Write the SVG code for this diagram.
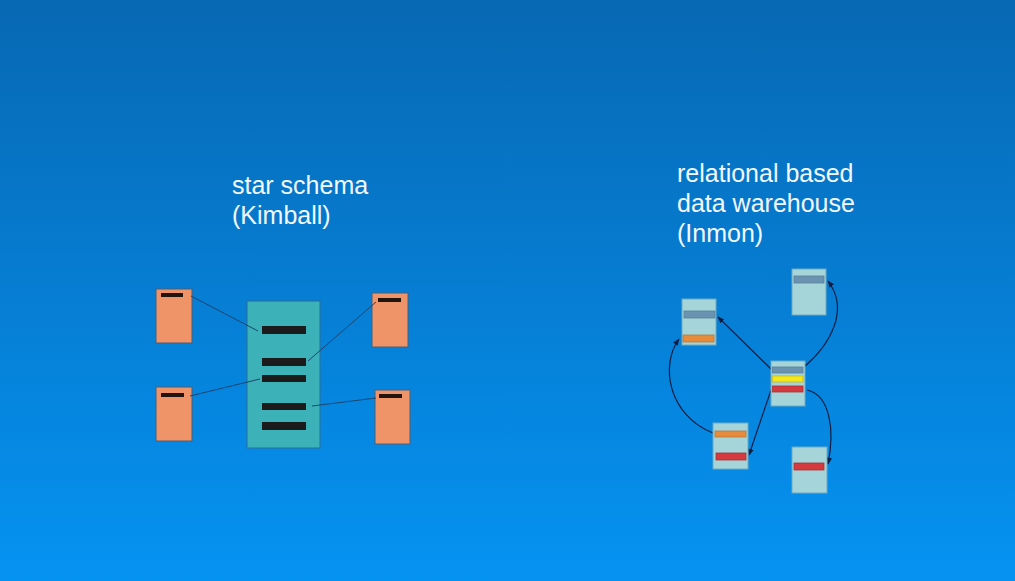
<svg xmlns="http://www.w3.org/2000/svg" width="1015" height="581" viewBox="0 0 1015 581">
<defs>
<linearGradient id="bg" x1="0" y1="0" x2="0" y2="1">
<stop offset="0" stop-color="#0768b3"/>
<stop offset="1" stop-color="#0593f2"/>
</linearGradient>
<marker id="arr" viewBox="0 0 10 10" refX="9" refY="5" markerWidth="7" markerHeight="7" orient="auto-start-reverse" markerUnits="userSpaceOnUse">
<path d="M0,1 L10,5 L0,9 z" fill="#0b1f45"/>
</marker>
</defs>
<style>
.title{font-family:"Liberation Sans",Arial,sans-serif;font-size:25px;fill:#f2f8ff}
.dim{fill:#ef9468;stroke:#4a5f78;stroke-width:1}
.dimbar{fill:#22150f}
.fact{fill:#3db1b8;stroke:#2a6f9a;stroke-width:1}
.factbar{fill:#1b1b1b}
.tbl{fill:#a6d5d9;stroke:#6fa9c0;stroke-width:1}
.gb{fill:#6a93b2;stroke:#5a7f9a;stroke-width:0.8}
.or{fill:#e68c3c;stroke:#b8773a;stroke-width:0.8}
.ye{fill:#f2e81a;stroke:#c9b820;stroke-width:0.8}
.rd{fill:#d53a3e;stroke:#a83034;stroke-width:0.8}
.link{stroke:#1a4670;stroke-width:1;fill:none}
.arrow{stroke:#0b1f45;stroke-width:1.2;fill:none;marker-end:url(#arr)}
</style>
<rect x="0" y="0" width="1015" height="581" fill="url(#bg)"/>

<g id="labels">
<text class="title" x="232" y="194">star schema</text>
<text class="title" x="232" y="224">(Kimball)</text>
<text class="title" x="677" y="182">relational based</text>
<text class="title" x="677" y="212">data warehouse</text>
<text class="title" x="677" y="242">(Inmon)</text>
</g>

<g id="fact">
<rect class="fact" x="247" y="301" width="73" height="147"/>
<rect class="factbar" x="262" y="326" width="44" height="8"/>
<rect class="factbar" x="262" y="358" width="44" height="8"/>
<rect class="factbar" x="262" y="375" width="44" height="7"/>
<rect class="factbar" x="262" y="403" width="44" height="7"/>
<rect class="factbar" x="262" y="422" width="44" height="8"/>
</g>
<g id="dim-tl">
<rect class="dim" x="156" y="289" width="36" height="54"/>
<rect class="dimbar" x="161" y="293" width="22" height="4"/>
</g>
<g id="dim-bl">
<rect class="dim" x="156" y="387" width="36" height="54"/>
<rect class="dimbar" x="161" y="393" width="23" height="4"/>
</g>
<g id="dim-tr">
<rect class="dim" x="372" y="293" width="36" height="54"/>
<rect class="dimbar" x="378" y="298" width="23" height="4"/>
</g>
<g id="dim-br">
<rect class="dim" x="375" y="390" width="35" height="54"/>
<rect class="dimbar" x="379" y="394" width="23" height="4"/>
</g>

<g id="star-connectors">
<line class="link" x1="191" y1="296" x2="258" y2="331"/>
<line class="link" x1="376" y1="302" x2="308" y2="361"/>
<line class="link" x1="190" y1="396" x2="260" y2="379"/>
<line class="link" x1="312" y1="406" x2="376" y2="398"/>
</g>

<g id="inmon-connectors">
<line class="arrow" x1="771" y1="369" x2="718" y2="317"/>
<path class="arrow" d="M804,367 C830,345 850,310 828,281"/>
<line class="arrow" x1="771" y1="390" x2="749" y2="455"/>
<path class="arrow" d="M807,390 C830,395 835,430 828,464"/>
<path class="arrow" d="M713,433 C668,415 660,365 679,339"/>
</g>

<g id="tbl-center">
<rect class="tbl" x="771" y="361" width="34" height="45"/>
<rect class="gb" x="772.5" y="367" width="30.5" height="6"/>
<rect class="ye" x="772.5" y="376" width="30.5" height="6"/>
<rect class="rd" x="772.5" y="386" width="30.5" height="6"/>
</g>
<g id="tbl-ul">
<rect class="tbl" x="682" y="299" width="34" height="46"/>
<rect class="gb" x="684" y="311" width="31" height="7"/>
<rect class="or" x="683" y="335" width="31" height="7"/>
</g>
<g id="tbl-tr">
<rect class="tbl" x="792" y="269" width="34" height="46"/>
<rect class="gb" x="794" y="276" width="30" height="7"/>
</g>
<g id="tbl-bl">
<rect class="tbl" x="713" y="423" width="35" height="46"/>
<rect class="or" x="715" y="431" width="31" height="6"/>
<rect class="rd" x="716" y="453" width="30" height="7"/>
</g>
<g id="tbl-br">
<rect class="tbl" x="792" y="447" width="35" height="46"/>
<rect class="rd" x="794" y="463" width="30" height="7"/>
</g>
</svg>
